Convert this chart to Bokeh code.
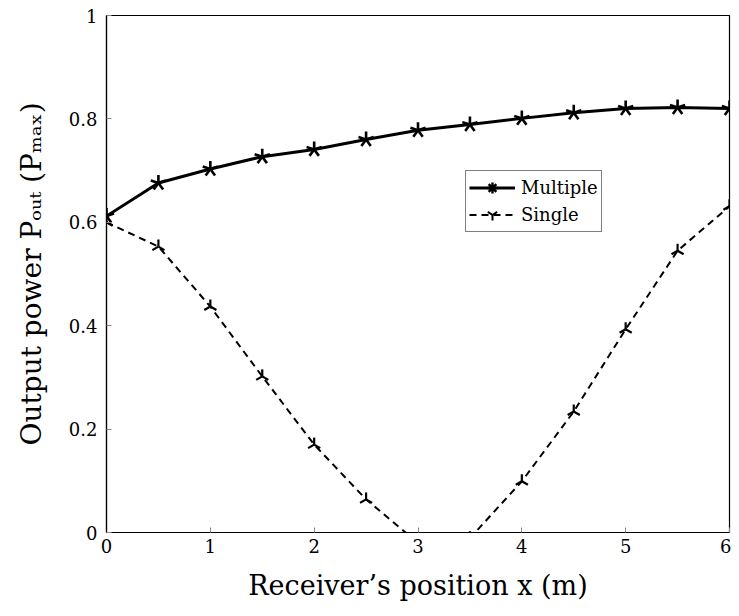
from bokeh.plotting import figure
from bokeh.models import Legend, LegendItem, FixedTicker, ColumnDataSource, Range1d
from bokeh.embed import file_html
from bokeh.resources import INLINE

# ---- data ----
x_pos = [0, 0.5, 1, 1.5, 2, 2.5, 3, 3.5, 4, 4.5, 5, 5.5, 6]
multiple = [0.612, 0.676, 0.703, 0.727, 0.741, 0.760, 0.778, 0.789, 0.801, 0.812, 0.820, 0.822, 0.820]
single = [0.600, 0.553, 0.437, 0.302, 0.170, 0.064, -0.020, -0.011, 0.099, 0.234, 0.393, 0.545, 0.631]

x_ticks = [0, 1, 2, 3, 4, 5, 6]
x_tick_labels = ["0", "1", "2", "3", "4", "5", "6"]
y_ticks = [0, 0.2, 0.4, 0.6, 0.8, 1]
y_tick_labels = ["0", "0.2", "0.4", "0.6", "0.8", "1"]

series_names = ["Multiple", "Single"]
x_label = "Receiver\u2019s position x (m)"
y_label = "Output power P\u2092\u1d64\u209c (P\u2098\u2090\u2093)"

FONT = "DejaVu Serif"

p = figure(width=731, height=608, output_backend="svg", toolbar_location=None,
           x_range=Range1d(0, 6), y_range=Range1d(0, 1),
           min_border_left=106, min_border_right=2, min_border_top=15, min_border_bottom=76)

p.xgrid.visible = False
p.ygrid.visible = False
p.outline_line_color = "black"
p.outline_line_width = 1.2
p.background_fill_color = "white"
p.border_fill_color = "white"

for ax, ticks, labels in ((p.xaxis[0], x_ticks, x_tick_labels), (p.yaxis[0], y_ticks, y_tick_labels)):
    ax.ticker = FixedTicker(ticks=ticks)
    ax.major_label_overrides = {t: l for t, l in zip(ticks, labels)}
    ax.minor_tick_line_color = None
    ax.major_tick_in = 5
    ax.major_tick_out = 0
    ax.major_tick_line_color = "#888888"
    ax.axis_line_color = "black"
    ax.axis_line_width = 1.2
    ax.major_label_text_font = FONT
    ax.major_label_text_font_size = "18px"
    ax.major_label_text_color = "black"
    ax.axis_label_text_font = FONT
    ax.axis_label_text_font_style = "normal"
    ax.axis_label_text_color = "black"

p.xaxis.axis_label = x_label
p.yaxis.axis_label = y_label
p.xaxis.axis_label_text_font_size = "27px"
p.yaxis.axis_label_text_font_size = "28px"
p.xaxis.major_label_standoff = 6
p.yaxis.major_label_standoff = 9
p.xaxis.axis_label_standoff = 14
p.yaxis.axis_label_standoff = 18

src_m = ColumnDataSource(dict(x=x_pos, y=multiple))
src_s = ColumnDataSource(dict(x=x_pos, y=single))

line_m = p.line(x="x", y="y", source=src_m, line_color="black", line_width=3)
line_s = p.line(x="x", y="y", source=src_s, line_color="black", line_width=2, line_dash="7 5")

# five-armed star markers for "Multiple"
for a in (90, 162, 234, 306, 18):
    p.ray(x="x", y="y", source=src_m, length=8, length_units="screen",
          angle=a, angle_units="deg", line_color="black", line_width=2.6)
# three-armed markers for "Single"
for a in (90, 210, 330):
    p.ray(x="x", y="y", source=src_s, length=7, length_units="screen",
          angle=a, angle_units="deg", line_color="black", line_width=2.2)

# zero-size scatters only used to give the legend its marker glyphs
leg_m = p.scatter(x="x", y="y", source=src_m, marker="asterisk", size=0,
                  line_color="black", line_width=2.4)
leg_s = p.scatter(x="x", y="y", source=src_s, marker="y", size=0,
                  line_color="black", line_width=2)

legend = Legend(items=[LegendItem(label=series_names[0], renderers=[line_m, leg_m]),
                       LegendItem(label=series_names[1], renderers=[line_s, leg_s])],
                location=(359, 300))
legend.label_text_font = FONT
legend.label_text_font_size = "18px"
legend.label_text_color = "black"
legend.glyph_width = 46
legend.glyph_height = 27
legend.label_height = 27
legend.spacing = 0
legend.padding = 3
legend.margin = 0
legend.label_standoff = 6
legend.border_line_color = "black"
legend.border_line_width = 1
legend.background_fill_alpha = 1
p.add_layout(legend, "center")

open("out.html", "w").write(file_html(p, INLINE))
